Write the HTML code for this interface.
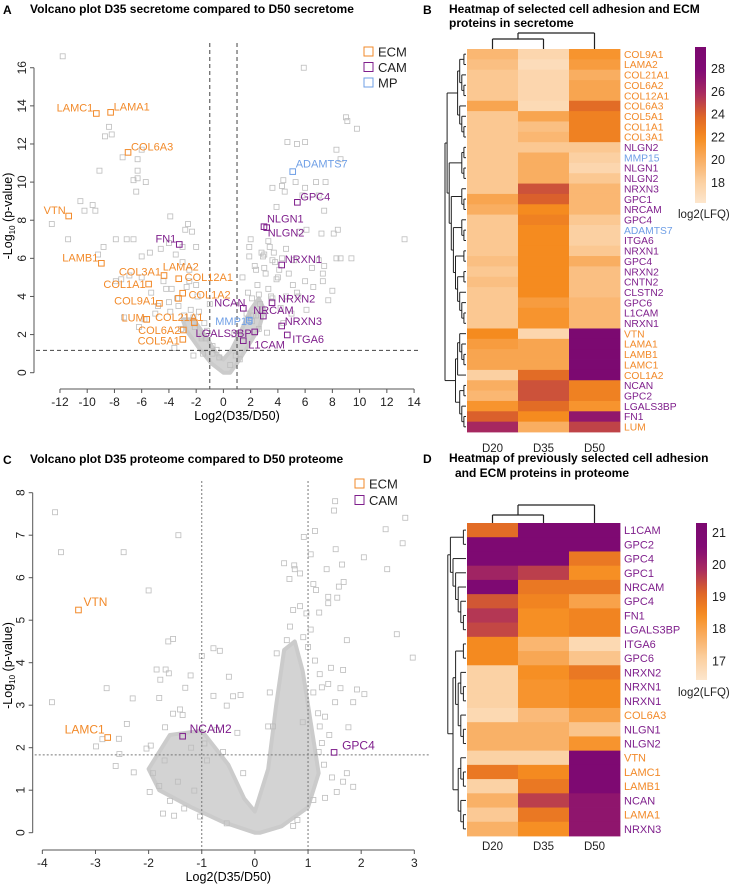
<!DOCTYPE html>
<html><head><meta charset="utf-8">
<style>
body{margin:0;background:#fff;}
svg{display:block;font-family:"Liberation Sans",Arial,sans-serif;}
.t{font-weight:bold;font-size:12px;}
.tick{font-size:12px;fill:#222;}
</style></head>
<body>
<svg id="fig" width="729" height="885" viewBox="0 0 729 885">
<g id="pA"></g>
<g id="pC"></g>
<g id="pB"></g>
<g id="pD"></g>
<text x="3" y="14" class="t" font-size="14">A</text>
<text x="30" y="13" class="t">Volcano plot D35 secretome compared to D50 secretome</text>
<text x="3" y="464" class="t" font-size="14">C</text>
<text x="30" y="463" class="t">Volcano plot D35 proteome compared to D50 proteome</text>
<text x="423" y="14" class="t" font-size="14">B</text>
<text x="449" y="13" class="t">Heatmap of selected cell adhesion and ECM</text>
<text x="449" y="27" class="t">proteins in secretome</text>
<text x="423" y="463" class="t" font-size="14">D</text>
<text x="449" y="462" class="t">Heatmap of previously selected cell adhesion</text>
<text x="455" y="477" class="t">and ECM proteins in proteome</text>
</svg>
<script>
// ===== Panel A data =====
const aLabels=["LAMC1","LAMA1","COL6A3","VTN","LAMB1","COL3A1","LAMA2","COL1A1","COL12A1","COL1A2","COL9A1","COL21A1","LUM","COL6A2","COL5A1","FN1","NCAN","MMP15","LGALS3BP","L1CAM","NRCAM","NRXN2","NRXN3","ITGA6","NRXN1","NLGN2","NLGN1","GPC4","ADAMTS7"];
const aX=[-9.33,-8.28,-7.0,-11.36,-8.96,-4.36,-3.28,-5.49,-2.99,-3.3,-4.7,-2.13,-5.63,-2.94,-2.98,-3.24,1.46,1.9,2.3,1.46,2.93,3.57,4.28,4.69,4.28,3.18,2.98,5.43,5.09];
const aY=[13.6,13.66,11.56,8.22,5.74,5.1,4.93,4.65,4.17,3.9,3.64,2.62,2.8,2.24,1.75,6.73,3.38,2.76,2.14,1.68,2.97,3.67,2.45,1.98,5.65,7.61,7.66,8.94,10.55];
const aType=["E","E","E","E","E","E","E","E","E","E","E","E","E","E","E","C","C","M","C","C","C","C","C","C","C","C","C","C","M"];
const aGrayX=[-11.8,5.9,9.0,9.1,9.8,-8.4,-8.7,-8.2,4.7,5.4,6.0,8.3,8.6,-7.4,-6.3,-6.0,-9.1,-6.3,-6.6,-6.3,-5.7,4.4,5.3,6.8,7.5,4.3,3.6,4.5,6.0,-6.4,5.8,7.0,-10.5,-10.2,-9.6,-9.4,-3.9,7.4,3.9,-12.6,-11.4,-7.9,-7.1,-6.6,-2.3,-2.8,-2.6,5.6,6.1,7.2,8.1,8.4,13.3,-8.8,-9.2,-6.0,-5.4,-4.6,-4.0,-3.0,-2.0,-3.5,8.3,9.4,8.6,7.0,6.5,7.4,7.3,7.3,8.0,7.7,-7.5,-7.9,-6.9,-6.0,-5.3,-7.3,-6.2,-5.8,-4.0,6.1,6.0,5.2,4.6,3.3,2.0,1.9,1.9,-1.8,-1.2,-0.8,-1.5,-2.2,-3.6,-4.2,-4.8,-5.0,-3.0,-2.5,-1.0,0.5,-0.3,1.2,2.2,2.6,3.5,4.0,4.8,5.4,5.0,6.6,3.0,2.4,4.2,4.4,5.5,3.8,2.8,1.4,-0.5,0.8,-2.0,-3.3,-4.4,-1.6,2.5,3.1,3.6,4.1,2.7,3.3,3.9,2.1,2.9,3.4,4.6,5.1,2.3,3.0,3.7,4.3,1.7,2.4,1.8,2.6,-2.4,-2.9,-3.4,-1.9,-2.7,-3.8,-1.4,-2.2,-3.1,-3.9,-1.3,-2.5,1.5,2.1,3.2,-0.8,-1.6,-2.1,0.9,3.6];
const aGrayY=[16.6,16.0,13.4,13.2,12.8,12.9,12.4,12.5,12.1,12.0,12.1,11.7,11.2,11.3,11.2,11.7,10.6,10.6,10.1,10.2,10.0,10.1,10.0,10.0,10.0,9.8,9.7,9.5,9.7,9.5,9.3,9.3,9.0,8.5,8.8,8.5,8.2,8.5,8.7,7.8,7.0,7.0,7.0,7.0,7.4,7.5,7.8,7.4,7.5,7.3,7.3,7.5,7.0,6.6,6.2,6.1,6.3,6.5,6.8,6.6,6.6,6.2,6.0,6.0,6.0,5.9,5.5,5.6,5.2,4.8,4.3,3.8,4.9,4.8,5.1,5.0,4.2,2.9,2.4,2.8,3.7,3.3,4.8,5.9,6.5,6.9,7.0,6.6,6.1,3.2,2.2,1.4,1.0,0.9,1.3,4.4,3.5,3.1,5.8,5.4,3.6,0.4,0.8,0.7,3.0,4.1,4.0,5.0,5.2,4.2,3.1,4.5,6.2,5.4,3.4,2.6,4.0,5.8,6.3,5.0,1.2,2.0,4.6,3.5,4.8,1.8,4.6,5.2,5.9,5.4,3.6,4.4,4.9,3.9,6.1,6.6,4.0,4.6,5.6,5.5,6.3,6.0,3.1,3.0,4.2,2.3,3.3,3.0,3.9,4.0,4.5,4.4,2.6,2.9,2.3,3.2,1.8,4.8,1.9,2.7,2.1,1.0,1.9,2.4,0.9,3.9];
const aCoreX=[0,-0.9,-1.8,-2.7,-3.0,-2.2,-1.3,-0.5,0,0.6,1.3,2.0,2.6,3.0,2.6,1.8,1.1,0.5];
const aCoreY=[0,0.5,1.3,2.2,2.8,2.8,1.9,1.0,0.7,1.2,2.2,3.3,3.9,3.3,2.3,1.4,0.6,0];
const aXTicks=[-12,-10,-8,-6,-4,-2,0,2,4,6,8,10,12,14];
const aYTicks=[0,2,4,6,8,10,12,14,16];

// ===== Panel C data =====
const cLabels=["VTN","LAMC1","NCAM2","GPC4"];
const cX=[-3.32,-2.77,-1.36,1.49];
const cY=[5.24,2.24,2.27,1.89];
const cType=["E","E","C","C"];
const cGrayX=[-3.76,-3.65,-2.47,-1.44,-2.0,-1.63,-1.54,-0.78,-0.66,-1.0,-1.85,-1.68,-1.62,-1.78,-1.21,-0.49,-1.31,-2.79,-3.82,-2.3,-1.8,-2.41,-2.99,-2.87,-2.56,-2.55,-2.62,-2.28,-0.78,-0.41,-0.27,-0.53,-1.41,-1.54,-1.36,1.51,1.49,1.13,0.92,1.52,2.83,2.46,2.78,2.05,2.49,1.05,0.55,0.74,0.75,0.85,1.35,1.64,1.67,1.58,0.65,1.1,1.15,1.38,1.55,1.38,1.21,2.67,1.73,2.97,1.66,1.43,1.92,2.06,1.85,1.61,1.51,1.76,1.73,1.85,1.54,1.32,0.72,0.8,1.26,1.4,1.66,1.1,-1.73,-1.52,-1.98,-1.6,-1.92,-2.04,-1.69,-1.96,-1.33,-1.03,-0.53,-0.22,-0.72,-0.33,-1.14,0.41,0.6,0.66,0.72,0.85,0.97,1.05,0.91,1.0,1.13,1.22,1.26,1.38,1.1,1.19,1.32,0.28,0.34,0.25,1.22,-1.2,-0.9,-1.7,-1.45,-0.6,-0.95,-1.8,1.3,1.45,1.2,0.9];
const cGrayY=[7.54,6.6,6.6,7.0,5.7,4.5,4.56,4.34,4.28,4.16,3.84,3.84,3.75,3.6,3.7,3.67,3.41,3.4,3.07,3.16,3.17,2.56,2.03,2.2,2.21,1.85,1.57,1.42,3.22,3.21,3.24,2.99,2.9,2.8,2.77,7.8,7.58,7.1,6.96,6.67,7.41,7.14,6.81,6.48,6.2,6.55,6.34,6.29,6.2,6.1,6.2,6.31,5.9,5.79,5.97,5.85,5.71,5.55,5.53,5.4,5.18,4.67,4.53,4.12,3.83,3.88,3.37,3.26,3.07,3.4,3.07,2.48,1.4,1.08,0.96,0.82,0.16,0.3,2.11,2.3,1.2,0.77,0.45,0.4,0.96,0.75,1.4,1.98,2.48,2.05,0.57,0.38,0.22,1.4,2.42,2.35,0.99,4.22,4.53,4.85,5.24,5.33,5.16,4.78,4.6,4.37,4.05,3.73,3.42,3.5,3.3,2.81,2.73,3.3,2.5,2.5,2.5,2.0,1.7,1.7,1.2,1.9,2.1,1.1,1.6,1.3,1.9,2.6];
const cCoreX=[0,-0.6,-1.2,-1.8,-2.0,-1.6,-1.0,-0.5,-0.2,0.0,0.25,0.4,0.55,0.75,0.9,1.05,1.2,1.0,0.5,0.1];
const cCoreY=[0,0.25,0.6,1.0,1.5,2.3,2.4,1.6,0.8,0.5,1.5,3.0,4.3,4.5,3.8,2.6,1.4,0.6,0.15,0];
const cXTicks=[-4,-3,-2,-1,0,1,2,3];
const cYTicks=[0,1,2,3,4,5,6,7,8];

// ===== Panel B data =====
const bGenes=["COL9A1","LAMA2","COL21A1","COL6A2","COL12A1","COL6A3","COL5A1","COL1A1","COL3A1","NLGN2","MMP15","NLGN1","NLGN2","NRXN3","GPC1","NRCAM","GPC4","ADAMTS7","ITGA6","NRXN1","GPC4","NRXN2","CNTN2","CLSTN2","GPC6","L1CAM","NRXN1","VTN","LAMA1","LAMB1","LAMC1","COL1A2","NCAN","GPC2","LGALS3BP","FN1","LUM"];
const bType=["E","E","E","E","E","E","E","E","E","C","M","C","C","C","C","C","C","M","C","C","C","C","C","C","C","C","C","E","E","E","E","E","C","C","C","C","E"];
const bD20=[19.5,19,18.5,18.5,18.5,20.5,18.5,18.5,18.5,18.5,18.5,18.5,18.5,18.5,20.5,20,18.5,18.5,18.5,18.5,19,18.5,19,18.5,18.5,18.5,18.5,22,21,20.5,20.5,18,20,19.5,21.5,24,26];
const bD35=[17.5,17,17.5,17.5,17.5,17.2,20.5,19,19.5,18.5,20,20,20,24.5,24,22,22.5,22,22,22,22,22,22,22,21,21.5,21.5,17.5,20.5,20.5,20.5,23.5,24.5,24.5,23.5,22,20];
const bD50=[21.5,21,20,20.5,20.5,23.5,22.5,22.5,22.5,18.5,18,17.5,18.5,19.5,19.5,19.5,18.5,18,18,18.5,20,19,19,19,19.5,19.5,19.5,29.5,29.5,29.5,29.5,29.5,22.5,22.5,21.5,27,25];
const bTicks=[18,20,22,24,26,28];
const bCols=["D20","D35","D50"];

// ===== Panel D data =====
const dGenes=["L1CAM","GPC2","GPC4","GPC1","NRCAM","GPC4","FN1","LGALS3BP","ITGA6","GPC6","NRXN2","NRXN1","NRXN1","COL6A3","NLGN1","NLGN2","VTN","LAMC1","LAMB1","NCAN","LAMA1","NRXN3"];
const dType=["C","C","C","C","C","C","C","C","C","C","C","C","C","E","C","C","E","E","E","C","E","C"];
const dD20=[19,21,21,20,21,19.3,19.7,19.5,18.5,18.5,17,17,17,16.8,17.7,17.7,17,18.8,17,17.7,17.2,17.7];
const dD35=[21,21,21,19.6,18.8,18.6,18.4,18.4,17.6,17.9,18.4,18.3,18.3,17.5,17.7,17.7,17,18.5,18.8,19.6,18.8,18.4];
const dD50=[21,21,18.8,18.4,18.8,18,18.6,18.6,16.8,17.3,18.8,18.5,18.5,18,17.3,18.3,21,21,21,20.3,20.3,20.3];
const dTicks=[17,18,19,20,21];
const dCols=["D20","D35","D50"];

const NS="http://www.w3.org/2000/svg";
const COL={E:"#f28a2a",C:"#7f1f8c",M:"#6f9fe6"};
function mk(parent,tag,attrs,name){const e=document.createElementNS(NS,tag);for(const k in attrs)e.setAttribute(k,attrs[k]);


parent.appendChild(e);return e;}
function txt(parent,x,y,s,attrs,name){const e=mk(parent,"text",Object.assign({x:x,y:y},attrs||{}),name);e.textContent=s;return e;}

function volcano(g,o){
  const sx=v=>o.x0+v*o.kx, sy=v=>o.y0-v*o.ky;
  let d="";o.coreX.forEach((v,i)=>{d+=(i?"L":"M")+sx(v)+","+sy(o.coreY[i]);});
  mk(g,"path",{d:d+"Z",fill:"#d3d3d3",stroke:"#cbcbcb","stroke-width":4,"stroke-linejoin":"round"},"dense-point-cloud");
  o.gx.forEach((v,i)=>{mk(g,"rect",{x:sx(v)-2.5,y:sy(o.gy[i])-2.5,width:5,height:5,fill:"none",stroke:"#bdbdbd","stroke-width":0.8},"gray-point");});
  [-1,1].forEach(v=>mk(g,"line",{x1:sx(v),x2:sx(v),y1:o.top,y2:o.axY,stroke:o.dashCol,"stroke-dasharray":o.dash,"stroke-width":1},"fold-change-threshold"));
  mk(g,"line",{x1:o.axX+2,x2:o.right,y1:sy(o.hthr),y2:sy(o.hthr),stroke:o.dashCol,"stroke-dasharray":o.dash,"stroke-width":1},"p-value-threshold");
  o.lx.forEach((v,i)=>{const c=COL[o.lt[i]];
    mk(g,"rect",{x:sx(v)-2.8,y:sy(o.ly[i])-2.8,width:5.6,height:5.6,fill:"none",stroke:c,"stroke-width":1},"highlighted-point");
    const off=o.off[i]||[4,-3];
    txt(g,sx(v)+off[0],sy(o.ly[i])+off[1],o.lab[i],{fill:c,"font-size":o.lfs,"text-anchor":off[2]||"start"},"point-label");});
  mk(g,"line",{x1:sx(o.xt[0]),x2:sx(o.xt[o.xt.length-1]),y1:o.axY,y2:o.axY,stroke:"#555"},"x-axis");
  mk(g,"line",{x1:o.axX,x2:o.axX,y1:sy(o.yt[0]),y2:sy(o.yt[o.yt.length-1]),stroke:"#555"},"y-axis");
  o.xt.forEach(v=>{mk(g,"line",{x1:sx(v),x2:sx(v),y1:o.axY,y2:o.axY+4,stroke:"#555"},"x-tick");
    txt(g,sx(v),o.axY+17,String(v),{"text-anchor":"middle",class:"tick"},"x-tick-label");});
  o.yt.forEach(v=>{mk(g,"line",{x1:o.axX-4,x2:o.axX,y1:sy(v),y2:sy(v),stroke:"#555"},"y-tick");
    txt(g,o.axX-8,sy(v),String(v),{"text-anchor":"middle",class:"tick",transform:"rotate(-90 "+(o.axX-8)+" "+sy(v)+")"},"y-tick-label");});
  txt(g,(sx(o.xt[0])+sx(o.xt[o.xt.length-1]))/2,o.axY+31,"Log2(D35/D50)",{"text-anchor":"middle","font-size":12.5},"x-axis-title");
  const yt=txt(g,12,(o.top+o.axY)/2,"",{"text-anchor":"middle","font-size":12.5,transform:"rotate(-90 12 "+((o.top+o.axY)/2)+")"},"y-axis-title");
  yt.innerHTML='-Log<tspan font-size="8" dy="3">10</tspan><tspan dy="-3"> (p-value)</tspan>';
  o.leg.forEach((L,i)=>{const y=o.legY+i*o.legDy;
    mk(g,"rect",{x:o.legX,y:y-5,width:9,height:9,fill:"none",stroke:COL[L[1]],"stroke-width":1},"legend-marker");
    txt(g,o.legX+14,y+4.5,L[0],{"font-size":13,fill:"#222"},"legend-entry");});
}

volcano(document.getElementById("pA"),{x0:223.4,kx:13.62,y0:372.7,ky:19.06,top:43,axY:389,axX:34,right:418,hthr:1.17,
  dash:"4,3",dashCol:"#444",coreX:aCoreX,coreY:aCoreY,gx:aGrayX,gy:aGrayY,lx:aX,ly:aY,lt:aType,lab:aLabels,lfs:11,
  off:[[-3,-2,"end"],[3,-2],[3,-2],[-3,-2,"end"],[-3,-2,"end"],[-3,0,"end"],[-16,-8],[-3,4,"end"],[2,-12],[10,0],[-3,1,"end"],[9,-2,"end"],[-2,2,"end"],[-3,4,"end"],[-3,5,"end"],[-3,-2,"end"],[-29,-2],[-34,5],[-3,5,"end"],[5,8],[-10,-2],[6,0],[3,-1],[5,8],[3,-2],[1,9],[3,-4],[3,-2],[3,-4]],
  xt:aXTicks,yt:aYTicks,leg:[["ECM","E"],["CAM","C"],["MP","M"]],legX:364,legY:52,legDy:15.5});

volcano(document.getElementById("pC"),{x0:254.9,kx:53.14,y0:832.7,ky:42.5,top:481,axY:850,axX:32.7,right:430,hthr:1.83,
  dash:"2,2",dashCol:"#777",coreX:cCoreX,coreY:cCoreY,gx:cGrayX,gy:cGrayY,lx:cX,ly:cY,lt:cType,lab:cLabels,lfs:12,
  off:[[5,-4],[-3,-4,"end"],[7,-3],[8,-3]],
  xt:cXTicks,yt:cYTicks,leg:[["ECM","E"],["CAM","C"]],legX:355,legY:484,legDy:16.5});

const STOPS=[[0,"#fde6cd"],[0.14,"#fbcf9f"],[0.28,"#f9ad60"],[0.42,"#f68c1f"],[0.56,"#dd6428"],[0.7,"#aa2c5e"],[0.84,"#820b74"],[1,"#7b0870"]];
function hex(h){return [1,3,5].map(i=>parseInt(h.substr(i,2),16));}
function cmap(t){t=Math.max(0,Math.min(1,t));for(let i=1;i<STOPS.length;i++){if(t<=STOPS[i][0]){const a=STOPS[i-1],b=STOPS[i];const f=(t-a[0])/(b[0]-a[0]);const A=hex(a[1]),B=hex(b[1]);return "rgb("+A.map((v,k)=>Math.round(v+(B[k]-v)*f)).join(",")+")";}}return STOPS[STOPS.length-1][1];}

function tree(g,node,o){
  const xs=h=>o.right-h*o.step;
  function lay(n){if(typeof n==="number")return {y:o.y0+(n+0.5)*o.rh,h:0};
    const a=lay(n[0]),b=lay(n[1]);const h=Math.max(a.h,b.h)+1;
    [a,b].forEach(c=>mk(g,"line",{x1:xs(c.h),x2:xs(h),y1:c.y,y2:c.y,stroke:"#222","stroke-width":1},"row-dendrogram-branch"));
    mk(g,"line",{x1:xs(h),x2:xs(h),y1:a.y,y2:b.y,stroke:"#222","stroke-width":1},"row-dendrogram-branch");
    return {y:(a.y+b.y)/2,h:h};}
  lay(node);
}

function heatmap(g,o){
  const cw=o.w/3,rh=o.h/o.genes.length;
  const t=v=>(v-o.vmin)/(o.vmax-o.vmin);
  o.cols.forEach((col,ci)=>{o.vals[ci].forEach((v,ri)=>{
    mk(g,"rect",{x:o.x0+ci*cw,y:o.y0+ri*rh,width:cw+0.4,height:rh+0.4,fill:cmap(t(v))},"heatmap-cell");});
    txt(g,o.x0+(ci+0.5)*cw,o.colLabY,col,{"text-anchor":"middle","font-size":11.5,fill:"#222"},"column-label");});
  o.genes.forEach((s,i)=>txt(g,o.x0+o.w+4,o.y0+(i+0.5)*rh+o.lfs*0.36,s,{fill:COL[o.types[i]],"font-size":o.lfs},"row-label"));
  const gid="grad"+o.id;const defs=mk(g,"defs",{},"defs");const lg=mk(defs,"linearGradient",{id:gid,x1:0,y1:1,x2:0,y2:0},"colorbar-gradient");
  for(let i=0;i<=20;i++)mk(lg,"stop",{offset:i/20,"stop-color":cmap(i/20)},"gradient-stop");
  mk(g,"rect",{x:o.cbx,y:o.cby,width:11,height:o.cbh,fill:"url(#"+gid+")"},"colorbar");
  const cy=v=>o.cby+o.cbh-(v-o.vmin)/(o.vmax-o.vmin)*o.cbh;
  o.ticks.forEach(v=>txt(g,o.cbx+16,cy(v)+4.5,String(v),{"font-size":12.5,fill:"#222"},"colorbar-tick-label"));
  txt(g,678,o.cbLabY,"log2(LFQ)",{"font-size":11.5,fill:"#222"},"colorbar-title");
  const cd=o.cd;const L=(x1,y1,x2,y2)=>mk(g,"line",{x1:x1,y1:y1,x2:x2,y2:y2,stroke:"#222","stroke-width":1.2},"column-dendrogram-branch");
  const c0=o.x0+cw*0.5,c1=o.x0+cw*1.5,c2=o.x0+cw*2.5,m=(c0+c1)/2;
  L(c0,o.y0,c0,cd[0]);L(c1,o.y0,c1,cd[0]);L(c0,cd[0],c1,cd[0]);L(m,cd[0],m,cd[1]);L(m,cd[1],c2,cd[1]);L(c2,cd[1],c2,o.y0);
  tree(g,o.tree,{right:o.x0-1,step:o.tstep,y0:o.y0,rh:rh});
}

heatmap(document.getElementById("pB"),{id:"B",x0:467,y0:49,w:153,h:383,genes:bGenes,types:bType,vals:[bD20,bD35,bD50],cols:bCols,
  vmin:16.2,vmax:29.9,colLabY:452,lfs:10.3,cbx:695,cby:47,cbh:156,ticks:bTicks,cbLabY:218,cd:[39,33],tstep:2.1,
  tree:[[[[[0,1],[2,[3,4]]],[5,[6,[7,8]]]],[[[9,10],[11,12]],[[13,[14,15]],[[16,[17,18]],[[19,20],[[21,22],[23,[24,[25,26]]]]]]]]],[[[27,[28,[29,30]]],31],[[32,33],[34,[35,36]]]]]});

heatmap(document.getElementById("pD"),{id:"D",x0:467,y0:523,w:153,h:313,genes:dGenes,types:dType,vals:[dD20,dD35,dD50],cols:dCols,
  vmin:16.4,vmax:21.3,colLabY:850,lfs:11,cbx:696,cby:523,cbh:157,ticks:dTicks,cbLabY:696,cd:[515,505],tstep:2.6,
  tree:[[[0,1],[2,[3,[4,[5,[6,7]]]]]],[[[8,9],[[10,[11,12]],[13,[14,15]]]],[[16,[17,18]],[19,[20,21]]]]]});
</script>
</body></html>
